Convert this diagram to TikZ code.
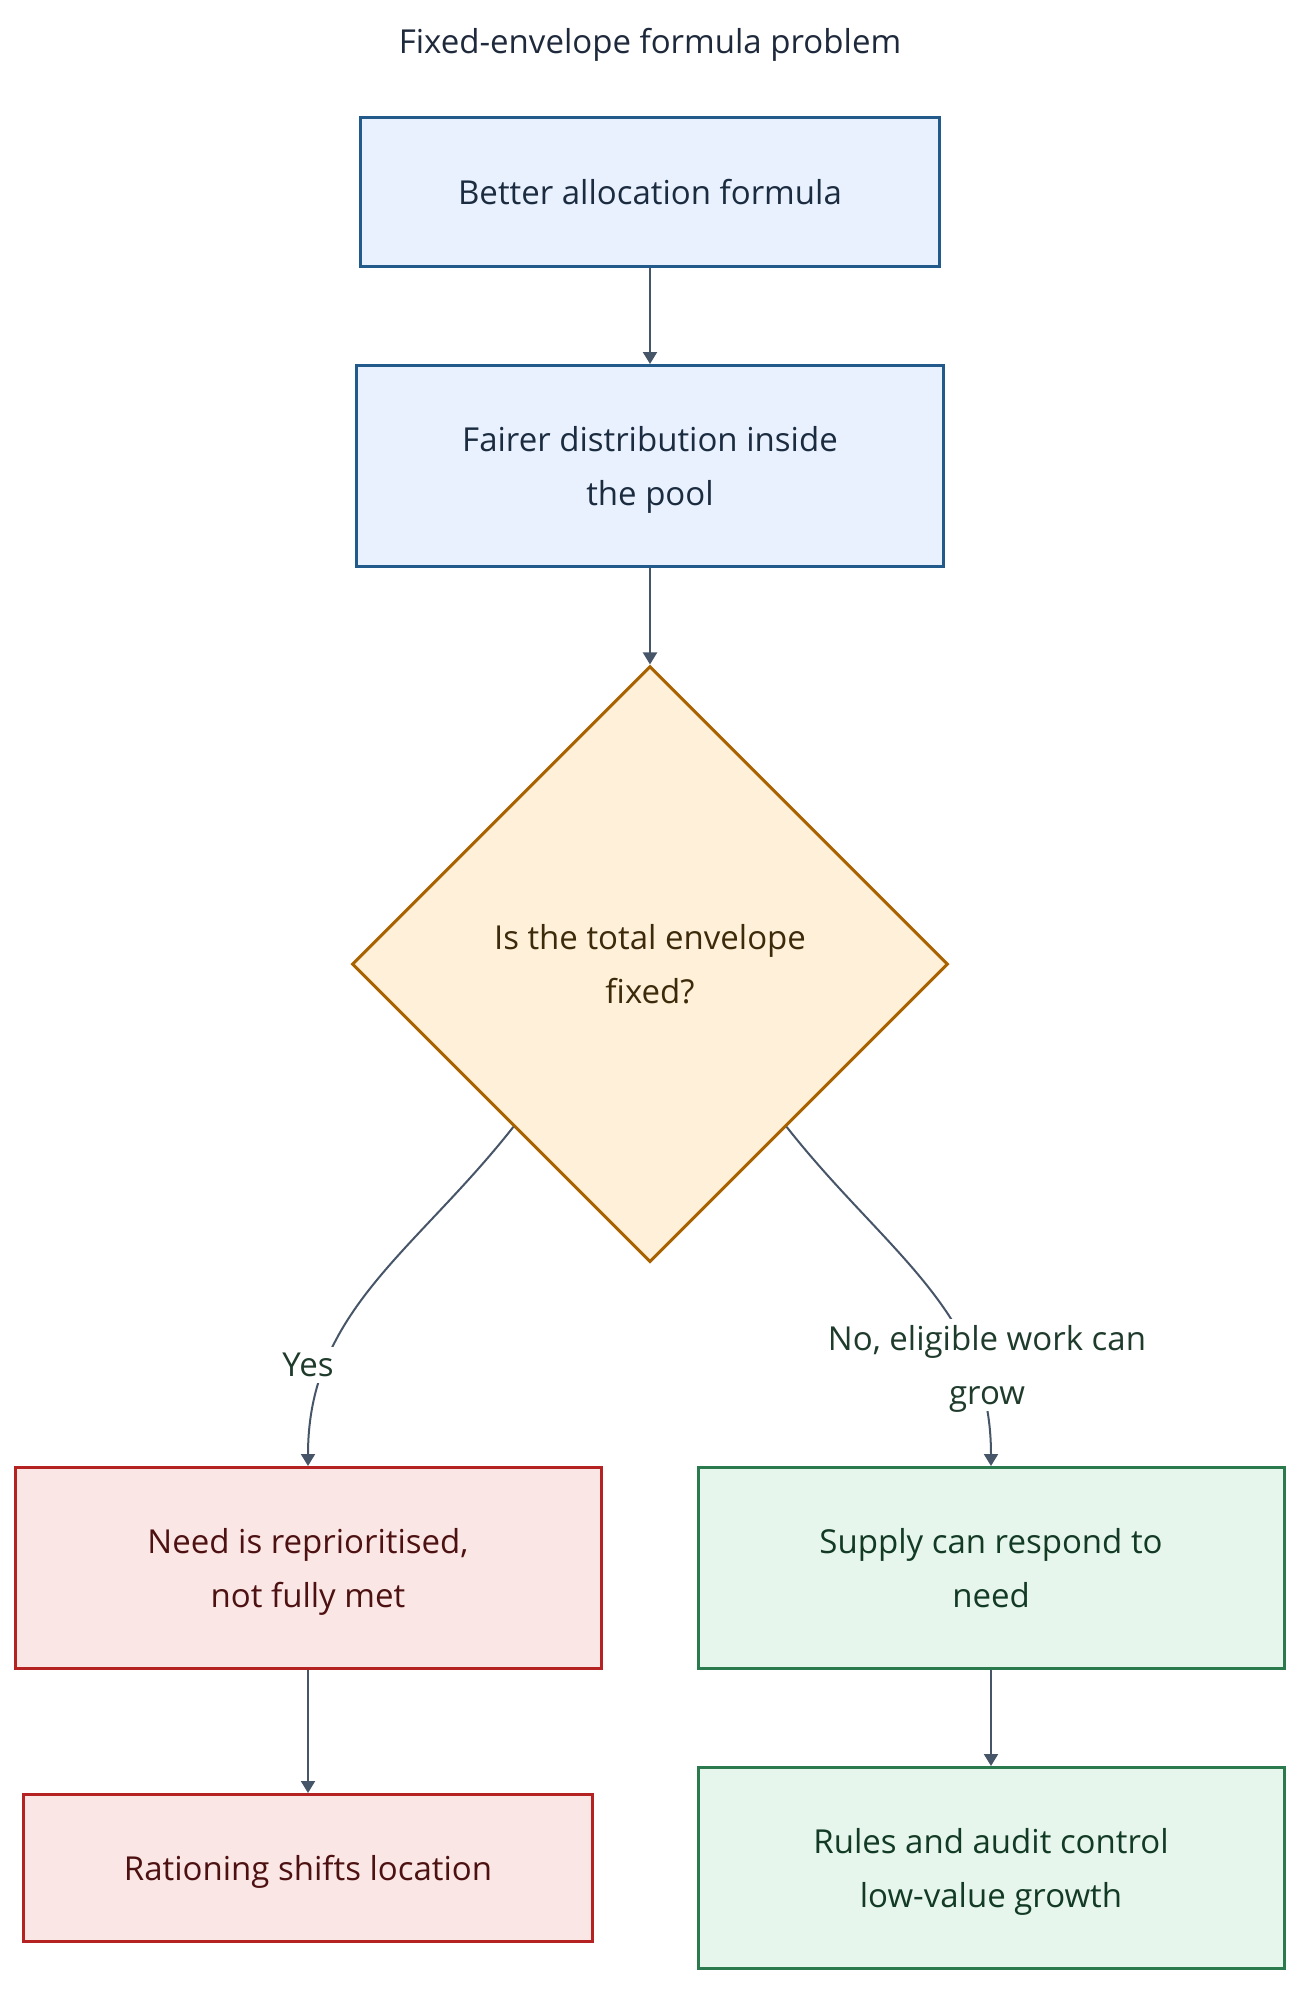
\documentclass[tikz,border=0pt]{standalone}
\usepackage{fontspec}
\setmainfont{Open Sans}
\usepackage{tikz}
\usetikzlibrary{arrows.meta,shapes.geometric}

\definecolor{bluefill}{HTML}{E8F1FD}
\definecolor{blueline}{HTML}{235A8C}
\definecolor{bluetext}{HTML}{1B2B40}
\definecolor{ambfill}{HTML}{FFF1D9}
\definecolor{ambline}{HTML}{A86200}
\definecolor{ambtext}{HTML}{3D2A0A}
\definecolor{redfill}{HTML}{FBE6E6}
\definecolor{redline}{HTML}{B52222}
\definecolor{redtext}{HTML}{4D1111}
\definecolor{grnfill}{HTML}{E7F6EC}
\definecolor{grnline}{HTML}{2A7A4E}
\definecolor{grntext}{HTML}{123A24}
\definecolor{edgecol}{HTML}{475569}
\definecolor{lbltext}{HTML}{1F3B2C}
\definecolor{ttltext}{HTML}{1E293B}

\tikzset{
  txt/.style={align=center, text depth=0pt, font=\fontsize{16.5}{27}\selectfont},
  box/.style={txt, rectangle, draw, line width=1.5pt, inner sep=0pt},
  bluebox/.style={box, fill=bluefill, draw=blueline, text=bluetext},
  redbox/.style={box, fill=redfill, draw=redline, text=redtext},
  grnbox/.style={box, fill=grnfill, draw=grnline, text=grntext},
  question/.style={txt, diamond, aspect=1, draw=ambline, fill=ambfill, text=ambtext,
    line width=1.5pt, inner sep=0pt, minimum width=298pt, minimum height=298pt},
  lbl/.style={txt, fill=white, text=lbltext, inner sep=3pt},
  flow/.style={draw=edgecol, line width=1pt, -{Triangle[length=6pt,width=7pt]}}
}

\begin{document}
\begin{tikzpicture}[x=0.5pt,y=-0.5pt]
\useasboundingbox (0,0) rectangle (1316,2010);
\node[txt, text=ttltext] (ttl) at (650,41) {Fixed-envelope formula problem};

\node[bluebox, minimum width=289.5pt, minimum height=74.5pt] (better) at (650,192) {Better allocation formula};
\node[bluebox, minimum width=293.5pt, minimum height=100.5pt] (fairer) at (650,466) {Fairer distribution inside\\the pool};
\node[question] (fixed) at (650,964) {Is the total envelope\\fixed?};
\node[redbox, minimum width=293pt, minimum height=100.5pt] (need) at (308,1568) {Need is reprioritised,\\not fully met};
\node[grnbox, minimum width=293pt, minimum height=100.5pt] (supply) at (991,1568) {Supply can respond to\\need};
\node[redbox, minimum width=284.5pt, minimum height=73.5pt] (ration) at (308,1868) {Rationing shifts location};
\node[grnbox, minimum width=293pt, minimum height=100.5pt] (rules) at (991,1868) {Rules and audit control\\low-value growth};

\draw[flow] (better) -- (fairer);
\draw[flow] (fairer) -- (fixed);
\draw[flow] (fixed.230) .. controls (415,1252) and (308,1311) .. (need.north);
\draw[flow] (fixed.310) .. controls (885,1252) and (991,1311) .. (supply.north);
\draw[flow] (need) -- (ration);
\draw[flow] (supply) -- (rules);

% edge labels
\node[lbl] (yes) at (308,1365) {Yes};
\node[lbl] (no) at (987,1365) {No, eligible work can\\grow};
\end{tikzpicture}
\end{document}
